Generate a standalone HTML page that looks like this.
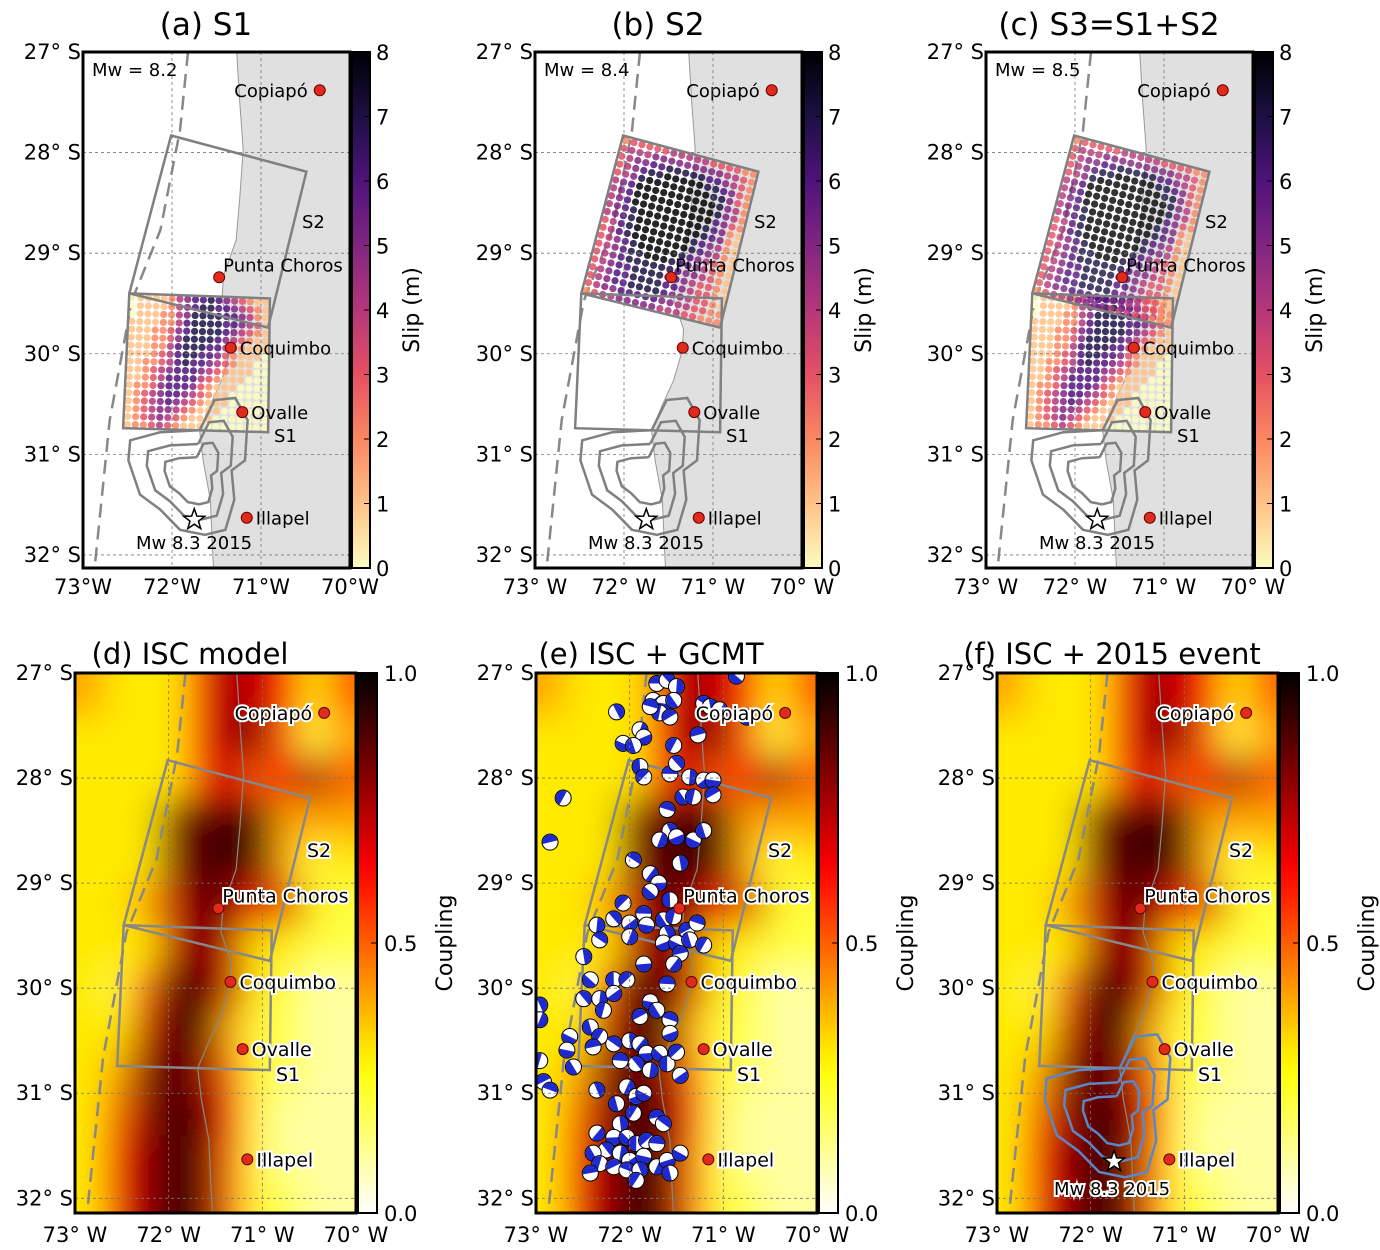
<!DOCTYPE html>
<html><head><meta charset="utf-8"><style>
html,body{margin:0;padding:0;background:#fff;}
svg{display:block;font-family:"DejaVu Sans","Liberation Sans",sans-serif;}
</style></head><body>
<svg id="fig" width="1380" height="1250" viewBox="0 0 1380 1250" xmlns="http://www.w3.org/2000/svg">
<defs>
<filter id="blur" x="-10%" y="-10%" width="120%" height="120%"><feGaussianBlur stdDeviation="18"/></filter>
</defs>
</svg>
<script>
// ---------- DATA ----------
const latTicks=[27,28,29,30,31,32];
const lonTicks=[73,72,71,70];
const slipTicks=[0,1,2,3,4,5,6,7,8];
const couplingTicks=[0.0,0.5,1.0];
const cityNames=["Copiapó","Punta Choros","Coquimbo","Ovalle","Illapel"];
const cityLon=[70.34,71.47,71.34,71.21,71.16];
const cityLat=[27.38,29.24,29.94,30.58,31.63];
const quakeLon=71.75, quakeLat=31.65;
const magnitudes=["8.2","8.4","8.5"];
const coastLon=[71.28,71.24,71.20,71.24,71.28,71.42,71.44,71.33,71.35,71.44,71.57,71.69,71.65,71.57,71.55,71.53];
const coastLat=[26.9,27.48,27.97,28.47,28.87,29.22,29.47,29.76,29.98,30.26,30.51,30.76,31.06,31.45,31.85,32.2];
const trenchLon=[71.82,71.91,72.13,72.45,72.70,72.87];
const trenchLat=[27.0,27.78,28.77,29.47,30.66,32.13];
const s2Lon=[72.01,70.49,70.92,72.48];
const s2Lat=[27.83,28.19,29.74,29.40];
const s1Lon=[72.48,70.90,70.92,72.55];
const s1Lat=[29.40,29.45,30.78,30.74];
const ruptLon=[71.69,71.52,71.29,71.15,71.18,71.33,71.30,71.40,71.63,71.91,72.13,72.36,72.49,72.47,72.13,71.69];
const ruptLat=[30.76,30.46,30.44,30.66,31.06,31.16,31.45,31.75,31.80,31.75,31.55,31.40,31.06,30.86,30.78,30.76];
const slipS1=[
"011112456676543211","011112456776654321","011122457777665421","111122467777665431",
"111223567777654321","111223577776543211","111224677766432111","111234677665321110",
"112234676654321100","112345666543211100","112346666432111000","122356665321110000",
"123456654321100000","123456543211100000","123455432111000000","123454321110000000",
"122343211100000000"];
const slipS2=[
"23333344444333322","34445555555554432","34556677777665432","34567788888776532",
"34578888888877532","45688888888887542","45688888888887542","45688888888886532",
"45678888888876521","45678888888876521","34678888888765421","34678888888765421",
"34567888887654321","34567788876654321","34567777776554321","34566777766543321",
"34566777766543321","34566777765543321","34556666655443322","23445555544433222"];
// coupling grid: 10 cols (0.3 deg from 73W), 13 rows (0.4 deg from 27S), tenths
const coupling=[
"4333687635","3333688524","3333675685","3338999444","3338999423",
"3347986732","3337973322","3259973211","3379942211","3489852211",
"3589962111","3689952111","3689952211"];
const bbLon=[71.71,71.60,71.50,71.75,71.64,71.53,71.68,71.57,71.78,72.14,71.89,71.85,72.07,71.96,71.53,71.27,71.21,71.14,71.04,70.75,70.86,
71.89,71.85,71.57,71.50,71.36,71.21,71.11,71.43,71.32,71.11,71.60,71.57,71.68,71.50,71.32,71.21,72.71,72.85,
71.96,71.46,71.78,71.69,71.78,71.57,72.07,71.85,72.17,72.35,72.00,71.82,71.64,71.53,71.39,71.28,71.60,72.00,71.64,71.50,71.36,71.21,71.46,72.32,72.49,71.53,71.85,
72.42,72.17,72.03,71.60,72.49,72.32,72.17,71.78,71.71,72.28,71.89,71.57,72.96,72.96,71.57,72.64,72.42,72.32,72.39,72.17,72.00,71.89,71.82,71.68,71.60,71.50,72.10,71.93,71.78,71.46,72.67,72.60,72.96,72.92,72.85,
72.35,72.03,71.93,71.85,72.14,71.96,71.71,71.64,72.10,72.35,72.17,72.03,71.93,71.82,71.71,72.25,72.10,72.00,71.85,72.39,72.32,72.17,72.03,71.89,71.71,71.60,71.46,71.57,71.93,72.42];
const bbLat=[27.10,27.07,27.13,27.26,27.29,27.26,27.38,27.42,27.32,27.37,27.54,27.61,27.67,27.69,27.69,27.59,27.29,27.32,27.35,27.42,27.03,
27.89,27.99,27.96,27.86,27.99,28.02,28.02,28.18,28.18,28.16,28.30,28.50,28.59,28.56,28.59,28.50,28.19,28.61,
28.78,28.81,28.91,29.00,29.08,29.16,29.19,29.29,29.34,29.40,29.38,29.40,29.35,29.32,29.45,29.38,29.48,29.51,29.57,29.57,29.54,29.59,29.67,29.54,29.70,29.77,29.77,
29.92,29.92,29.92,29.96,30.10,30.10,30.05,30.13,30.21,30.21,30.27,30.30,30.16,30.30,30.43,30.46,30.37,30.46,30.56,30.53,30.50,30.53,30.62,30.62,30.72,30.61,30.69,30.72,30.78,30.83,30.59,30.75,30.69,30.89,30.97,
30.97,30.94,31.03,31.00,31.10,31.19,31.23,31.29,31.29,31.38,31.42,31.42,31.48,31.45,31.48,31.54,31.57,31.64,31.60,31.57,31.67,31.70,31.73,31.73,31.70,31.64,31.57,31.76,31.83,31.76];

// ---------- HELPERS ----------
const NS="http://www.w3.org/2000/svg";
const svg=document.getElementById('fig');
function mk(tag,attrs,parent){const e=document.createElementNS(NS,tag);for(const k in attrs)e.setAttribute(k,attrs[k]);(parent||svg).appendChild(e);return e;}
function lerpHex(a,b,t){const pa=[1,3,5].map(i=>parseInt(a.substr(i,2),16)),pb=[1,3,5].map(i=>parseInt(b.substr(i,2),16));return 'rgb('+pa.map((v,i)=>Math.round(v+(pb[i]-v)*t)).join(',')+')';}
const magmaStops=['#000004','#1c1044','#4f127b','#812581','#b5367a','#e55064','#fb8761','#fec287','#fcfdbf'];
function magma(t){t=Math.max(0,Math.min(1,t));const s=t*8,i=Math.min(7,Math.floor(s));return lerpHex(magmaStops[i],magmaStops[i+1],s-i);}
function slipColor(v){return magma(1-v/8);}
function hotR(v){const t=1-v;const c=x=>Math.round(255*Math.max(0,Math.min(1,x)));return 'rgb('+c(t/0.365)+','+c((t-0.365)/0.365)+','+c((t-0.73)/0.27)+')';}
function proj(x0,y0,w,h){return {x:l=>x0+(73-l)*w/3, y:a=>y0+(a-27)*h/5.13};}

let gid=0;
function gradient(fn,n){const id='g'+(gid++);const defs=svg.querySelector('defs');const g=mk('linearGradient',{id:id,x1:0,y1:1,x2:0,y2:0},defs);for(let i=0;i<=n;i++){mk('stop',{offset:i/n,'stop-color':fn(i/n)},g);}return id;}

function pts(P,lons,lats){return lons.map((l,i)=>P.x(l).toFixed(1)+','+P.y(lats[i]).toFixed(1)).join(' ');}

function axes(P,x0,y0,w,h,g,latX,lonY,lonSpace){
  latTicks.forEach(a=>{
    const y=P.y(a);
    const gl=mk('line',{x1:x0,x2:x0+w,y1:y,y2:y,stroke:'#777','stroke-width':0.8,'stroke-dasharray':'3,3'},g);
    
    const t=mk('text',{x:latX,y:y+7,'font-size':21,'text-anchor':'end',fill:'#000'},g);t.textContent=a+'° S';
    
  });
  lonTicks.forEach(l=>{
    const x=P.x(l);
    const gl=mk('line',{x1:x,x2:x,y1:y0,y2:y0+h,stroke:'#777','stroke-width':0.8,'stroke-dasharray':'3,3'},g);
    
    const t=mk('text',{x:x,y:lonY,'font-size':21,'text-anchor':'middle',fill:'#000'},g);t.textContent=l+'°'+lonSpace+'W';
    
  });
}

function faults(P,g,col){
  const a=mk('polygon',{points:pts(P,s2Lon,s2Lat),fill:'none',stroke:col,'stroke-width':2.5},g);
  
  const b=mk('polygon',{points:pts(P,s1Lon,s1Lat),fill:'none',stroke:col,'stroke-width':2.5},g);
  
}
function trench(P,g){
  const t=mk('polyline',{points:pts(P,trenchLon,trenchLat),fill:'none',stroke:'#888','stroke-width':2.5,'stroke-dasharray':'14,8'},g);
  
}
function rupture(P,g,col){
  const cx=71.75,cy=31.25;
  [1,0.72,0.45].forEach(s=>{
    const lo=ruptLon.map(l=>cx+(l-cx)*s), la=ruptLat.map(a=>cy+(a-cy)*s);
    const p=mk('polyline',{points:pts(P,lo,la),fill:'none',stroke:col,'stroke-width':2.5},g);
    
  });
}
function star(P,g,fill){
  const cx=P.x(quakeLon),cy=P.y(quakeLat);let d='';
  for(let i=0;i<10;i++){const r=i%2?4.5:11,an=-Math.PI/2+i*Math.PI/5;d+=(i?'L':'M')+(cx+r*Math.cos(an)).toFixed(1)+','+(cy+r*Math.sin(an)).toFixed(1);}
  const s=mk('path',{d:d+'Z',fill:fill,stroke:'#000','stroke-width':1.5},g);
  
}
function cities(P,g,halo,fs){
  cityNames.forEach((n,i)=>{
    const x=P.x(cityLon[i]),y=P.y(cityLat[i]);
    const c=mk('circle',{cx:x,cy:y,r:5.5,fill:'#e02a1c',stroke:'#600',"stroke-width":1},g);
    
    const tx = i===0 ? x-12 : x+9;
    const t=mk('text',{x:tx,y:y+(i===1?-6:7),'font-size':fs,'text-anchor':i===0?'end':'start',fill:'#000'},g);
    if(i===1){t.setAttribute('x',x+4);}
    if(halo){t.setAttribute('stroke','#fff');t.setAttribute('stroke-width',4);t.setAttribute('paint-order','stroke');}
    t.textContent=n;
    
  });
}
function slipDots(P,g,grid,lons,lats,op){
  const R=grid.length,C=grid[0].length;
  for(let r=0;r<R;r++)for(let c=0;c<C;c++){
    const u=(c+0.5)/C,v=(r+0.5)/R;
    const lo=(1-u)*(1-v)*lons[0]+u*(1-v)*lons[1]+u*v*lons[2]+(1-u)*v*lons[3];
    const la=(1-u)*(1-v)*lats[0]+u*(1-v)*lats[1]+u*v*lats[2]+(1-u)*v*lats[3];
    const val=+grid[r][c];
    const d=mk('circle',{cx:P.x(lo),cy:P.y(la),r:3.6,fill:slipColor(val),'fill-opacity':op},g);
    
  }
}

// ---------- TOP ROW ----------
const topX=[83,535,986];
const titlesTop=["(a) S1","(b) S2","(c) S3=S1+S2"];
const magId=gradient(t=>slipColor(t*8),16);
topX.forEach((x0,k)=>{
  const y0=52,w=267,h=516;const P=proj(x0,y0,w,h);
  const g=mk('g',{});
  const cid='clipT'+k;const cp=mk('clipPath',{id:cid},svg.querySelector('defs'));mk('rect',{x:x0,y:y0,width:w,height:h},cp);
  const m=mk('g',{'clip-path':'url(#'+cid+')'},g);
  mk('rect',{x:x0,y:y0,width:w,height:h,fill:'#fff'},m);
  const land=mk('polygon',{points:pts(P,coastLon.concat([69.5,69.5]),coastLat.concat([32.3,26.8])),fill:'#e0e0e0',stroke:'#999','stroke-width':1},m);
  
  axes(P,x0,y0,w,h,g,x0-2,594,k===0?'':' ');
  trench(P,m);
  if(k===0||k===2)slipDots(P,m,slipS1,s1Lon,s1Lat,0.85);
  if(k===1||k===2)slipDots(P,m,slipS2,s2Lon,s2Lat,k===2?0.8:0.85);
  faults(P,m,'#808080');
  rupture(P,m,'#808080');
  star(P,m,'#fff');
  cities(P,m,false,18);
  const lab=(t,x,y,n)=>{const e=mk('text',{x:x,y:y,'font-size':18,fill:'#000'},m);e.textContent=t;};
  lab('S2',x0+219,y0+176,'label-s2');lab('S1',x0+191,y0+390,'label-s1');
  lab('Mw 8.3 2015',x0+53,y0+497,'label-2015-event');
  lab('Mw = '+magnitudes[k],x0+9,y0+24,'magnitude-label');
  mk('rect',{x:x0,y:y0,width:w,height:h,fill:'none',stroke:'#000','stroke-width':3},g);
  const cx=x0+269;
  const cb=mk('rect',{x:cx,y:y0,width:18,height:h,fill:'url(#'+magId+')',stroke:'#000','stroke-width':2},g);
  
  slipTicks.forEach(v=>{const y=y0+h-v*h/8;mk('line',{x1:cx+12,x2:cx+18,y1:y,y2:y,stroke:'#000','stroke-width':1},g);
    const t=mk('text',{x:cx+24,y:y+8,'font-size':21,fill:'#000'},g);t.textContent=v;});
  const sl=mk('text',{x:0,y:0,'font-size':22,'text-anchor':'middle',transform:'translate('+(cx+67)+','+(y0+258)+') rotate(-90)'},g);sl.textContent='Slip (m)';
  
  const tt=mk('text',{x:x0+123,y:35,'font-size':31,'text-anchor':'middle',fill:'#000'},g);tt.textContent=titlesTop[k];
  
});

// ---------- BOTTOM ROW ----------
const botX=[75,536,997];
const titlesBot=["(d) ISC model","(e) ISC + GCMT","(f) ISC + 2015 event"];
const hotId=gradient(t=>hotR(t),20);
botX.forEach((x0,k)=>{
  const y0=673,w=281,h=540;const P={x:l=>x0+(73-l)*w/3,y:a=>y0+(a-27)*h/5.14};
  const g=mk('g',{});
  const cid='clipB'+k;const cp=mk('clipPath',{id:cid},svg.querySelector('defs'));mk('rect',{x:x0,y:y0,width:w,height:h},cp);
  const m=mk('g',{'clip-path':'url(#'+cid+')'},g);
  const hm=mk('g',{filter:'url(#blur)'},m);
  const R=coupling.length,C=coupling[0].length;
  for(let r=0;r<R;r++)for(let c=0;c<C;c++){
    let xa=P.x(73-c*0.3),xb=P.x(73-(c+1)*0.3),ya=P.y(27+r*0.4),yb=P.y(27+(r+1)*0.4);
    if(c===0)xa-=60;if(c===C-1)xb+=60;if(r===0)ya-=60;if(r===R-1)yb+=60;
    const cell=mk('rect',{x:xa,y:ya,width:xb-xa+0.5,height:yb-ya+0.5,fill:hotR(+coupling[r][c]/10)},hm);
    
  }
  axes(P,x0,y0,w,h,g,x0-2,1242,' ');
  const cl=mk('polyline',{points:pts(P,coastLon,coastLat),fill:'none',stroke:'#888','stroke-width':1.2},m);
  
  trench(P,m);
  faults(P,m,'#888');
  if(k===1){
    bbLon.forEach((l,i)=>{
      const x=P.x(l),y=P.y(bbLat[i]);const an=(i*47)%360;
      const c=mk('circle',{cx:x,cy:y,r:8,fill:'#fff',stroke:'#000','stroke-width':1},m);
      
      const hb=mk('path',{d:`M${x-7.5},${y} A7.5,7.5 0 0 1 ${x+7.5},${y} Z`,fill:'#1e2ad0',transform:`rotate(${an} ${x} ${y})`},m);
      
    });
  }
  if(k===2){rupture(P,m,'#5b86c8');star(P,m,'#fff');
    const e=mk('text',{x:x0+57,y:y0+522,'font-size':18,fill:'#000',stroke:'#fff','stroke-width':4,'paint-order':'stroke'},m);e.textContent='Mw 8.3 2015';}
  cities(P,m,true,19);
  const lab=(t,x,y,n)=>{const e=mk('text',{x:x,y:y,'font-size':19,fill:'#000',stroke:'#fff','stroke-width':4,'paint-order':'stroke'},m);e.textContent=t;};
  lab('S2',x0+232,y0+184,'label-s2');lab('S1',x0+201,y0+408,'label-s1');
  mk('rect',{x:x0,y:y0,width:w,height:h,fill:'none',stroke:'#000','stroke-width':3},g);
  const cx=x0+283;
  const cb=mk('rect',{x:cx,y:y0,width:19,height:h,fill:'url(#'+hotId+')',stroke:'#000','stroke-width':2},g);
  
  couplingTicks.forEach(v=>{const y=y0+h-v*h;mk('line',{x1:cx+13,x2:cx+19,y1:y,y2:y,stroke:'#000','stroke-width':1},g);
    const t=mk('text',{x:cx+26,y:y+8,'font-size':21,fill:'#000'},g);t.textContent=v.toFixed(1);});
  const sl=mk('text',{x:0,y:0,'font-size':22,'text-anchor':'middle',transform:'translate('+(cx+94)+','+(y0+270)+') rotate(-90)'},g);sl.textContent='Coupling';
  
  const tt=mk('text',{x:x0+115,y:664,'font-size':29,'text-anchor':'middle',fill:'#000'},g);tt.textContent=titlesBot[k];
  
});
</script>
</body></html>
